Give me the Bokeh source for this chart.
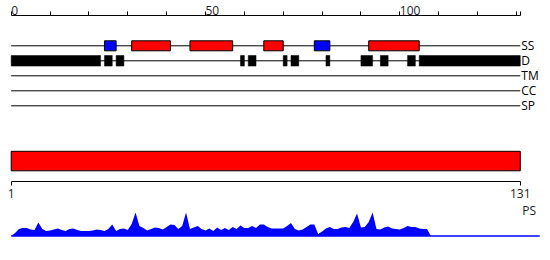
from bokeh.plotting import figure
from bokeh.models import Range1d, LinearAxis, FixedTicker, CustomJSTickFormatter
from bokeh.embed import file_html
from bokeh.resources import INLINE
from bokeh.core.properties import value

# ---------------- data ----------------
seq_len = 131
ruler_major = [0, 50, 100]
ruler_major_labels = ["0", "50", "100"]
ruler_minor = [10, 20, 30, 40, 60, 70, 80, 90, 110, 120, 130, 131]

track_names = ["SS", "D", "TM", "CC", "SP"]

# secondary structure: H = helix (red), E = strand (blue)
ss_start = [24, 31, 46, 65, 78, 92]
ss_end = [27, 41, 57, 70, 82, 105]
ss_type = ["E", "H", "H", "H", "E", "H"]

# disorder segments
dis_start = [0, 24, 27, 59, 61, 70, 72, 81, 90, 95, 102, 105]
dis_end = [23, 26, 29, 60, 63, 71, 74, 82, 93, 97, 104, 131]

# domain
dom_start = [0]
dom_end = [131]

# residue axis ticks
res_ticks = [1, 131]
res_labels = ["1", "131"]

# PS profile (score per position)
ps_pos = list(range(0, 109))
ps_val = [0, 3, 7, 8, 8, 6.5, 6, 13.5, 7, 5,
          5.5, 6.5, 7.5, 6, 5, 7, 7.5, 6, 5, 5,
          5, 5.5, 6.5, 6, 5, 7, 11.5, 5, 7, 7.5,
          6, 12, 23.5, 10, 8, 5.5, 7, 8.5, 8, 6.5,
          9, 11.5, 11, 7, 10, 23.5, 7, 8.5, 10, 7,
          5.5, 7.5, 5, 8.5, 6, 8, 6, 9, 7, 10.5,
          8, 8, 10, 8, 11.5, 11.5, 9, 7.5, 7.5, 7.5,
          7.5, 10, 13, 7, 5.5, 6.5, 9, 11.5, 11.5, 2,
          4.5, 7.5, 9, 7, 7, 8.5, 9, 8, 14, 22.5,
          8.5, 9, 14, 23.5, 7, 6.5, 8.5, 9.5, 7.5, 7,
          6.5, 8, 10, 9, 9, 7.5, 7, 7, 0]
ps_line_end = 136

# ---------------- layout ----------------
W, H = 550, 260
px_per_unit = 3.886
x0_px = 10.7
row_y0, row_dy = 45.3, 15
box_h = 10

ss_colors = {"H": "#ff0000", "E": "#0000ff"}

p = figure(width=W, height=H, output_backend="svg", toolbar_location=None,
           x_axis_location=None, y_axis_location=None, min_border=0,
           x_range=Range1d(-x0_px / px_per_unit, (W - x0_px) / px_per_unit),
           y_range=Range1d(H, 0))
p.outline_line_color = None
p.background_fill_color = "white"
p.border_fill_color = "white"
p.xgrid.visible = False
p.ygrid.visible = False
p.grid.grid_line_color = None

res_scale = (seq_len * px_per_unit) / (seq_len - 1)
p.extra_x_ranges = {"res": Range1d(1 - x0_px / res_scale, 1 + (W - x0_px) / res_scale)}
p.extra_y_ranges = {"ps": Range1d(-(H - 235.5), 235.5)}

font = value("Open Sans")

# top ruler
top_ax = LinearAxis(fixed_location=14.5,
                    ticker=FixedTicker(ticks=ruler_major, minor_ticks=ruler_minor),
                    formatter=CustomJSTickFormatter(code="return ''"),
                    bounds=(0, seq_len),
                    major_tick_in=0, major_tick_out=4,
                    minor_tick_in=0, minor_tick_out=4,
                    axis_line_color="black", major_tick_line_color="black",
                    minor_tick_line_color="black")
p.add_layout(top_ax, "above")
p.text(x=ruler_major, y=[10] * len(ruler_major), text=ruler_major_labels,
       text_align="left", text_baseline="alphabetic", text_font=font,
       text_font_size="12px", text_color="#222222")

# track lines
track_y = [row_y0 + i * row_dy for i in range(len(track_names))]
p.segment(x0=[0] * len(track_names), x1=[seq_len] * len(track_names),
          y0=track_y, y1=track_y, line_color="black", line_width=1)
p.text(x=[seq_len] * len(track_names), y=track_y, text=track_names, x_offset=1,
       text_align="left", text_baseline="middle", text_font=font,
       text_font_size="12px", text_color="black")

# SS boxes
p.quad(left=ss_start, right=ss_end,
       top=[track_y[0] - box_h / 2] * len(ss_start),
       bottom=[track_y[0] + box_h / 2] * len(ss_start),
       fill_color=[ss_colors[t] for t in ss_type], line_color="black", line_width=1)

# disorder boxes
p.quad(left=dis_start, right=dis_end,
       top=[track_y[1] - 5.3] * len(dis_start),
       bottom=[track_y[1] + 5.3] * len(dis_start),
       fill_color="black", line_color="black", line_width=0.5)

# domain bar
p.quad(left=dom_start, right=dom_end, top=[150.8], bottom=[170.3],
       fill_color="#ff0000", line_color="black", line_width=1)

# residue axis
bot_ax = LinearAxis(x_range_name="res", fixed_location=180.5,
                    ticker=FixedTicker(ticks=res_ticks, minor_ticks=[]),
                    major_label_overrides={t: l for t, l in zip(res_ticks, res_labels)},
                    bounds=(1, seq_len),
                    major_tick_in=0, major_tick_out=4, major_label_standoff=4,
                    major_label_text_font="Open Sans", major_label_text_font_size="12px",
                    major_label_text_color="#222222",
                    axis_line_color="black", major_tick_line_color="black")
p.add_layout(bot_ax, "below")

# PS profile
p.varea(x=ps_pos, y1=[0] * len(ps_pos), y2=ps_val, y_range_name="ps",
        fill_color="#0000ff")
p.segment(x0=[0], x1=[ps_line_end], y0=[0], y1=[0], y_range_name="ps",
          line_color="#0000ff", line_width=1.3)
p.text(x=[seq_len], y=[210], text=["PS"], x_offset=2,
       text_align="left", text_baseline="middle", text_font=font,
       text_font_size="12px", text_color="#222222")

open("out.html", "w").write(file_html(p, INLINE))
